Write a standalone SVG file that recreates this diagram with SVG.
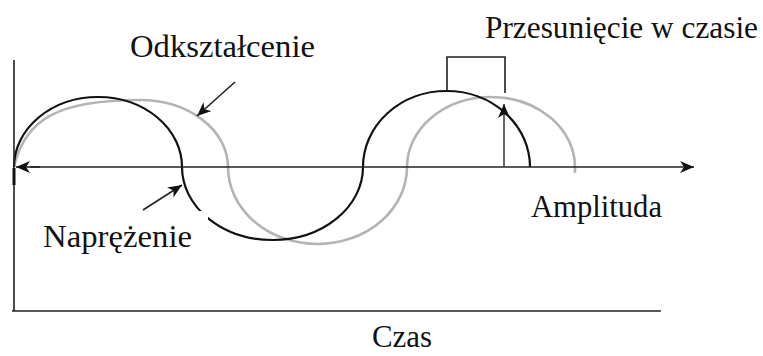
<svg xmlns="http://www.w3.org/2000/svg" width="763" height="356" viewBox="0 0 763 356">
  <style>
    .lbl { font-family: "Liberation Serif", "Times New Roman", serif; font-size: 32px; fill: #111; }
    .blk { fill: none; stroke: #111; stroke-width: 2.2; }
    .gry { fill: none; stroke: #b4b4b4; stroke-width: 2.6; }
    .ax { fill: none; stroke: #222; stroke-width: 1.6; }
    .ptr { fill: none; stroke: #222; stroke-width: 1.6; }
  </style>
  <defs>
    <marker id="ah" markerUnits="userSpaceOnUse" markerWidth="16" markerHeight="12" refX="14" refY="6" orient="auto">
      <path d="M0,0 L14,6 L0,12 L4,6 Z" fill="#111"/>
    </marker>
  </defs>
  <rect width="763" height="356" fill="#fff"/>

  <g id="curves">
    <path id="odksztalcenie-curve" class="gry" d="M14,167 C25,118 60,100 140,100 A88,67 0 0 1 228,167 A89.5,77 0 0 0 407,167 A84,70 0 0 1 575,167 L575,173"/>
    <path id="naprezenie-curve" class="blk" d="M14,167 A84,70 0 0 1 182,167 A90.5,73 0 0 0 363,167 A83.5,76 0 0 1 530,167"/>
  </g>

  <g id="axes">
    <line class="ax" x1="14" y1="60" x2="14" y2="311"/>
    <line class="ax" x1="12" y1="311" x2="661" y2="311"/>
    <line x1="14" y1="168" x2="14" y2="185" stroke="#111" stroke-width="3"/>
    <line class="ax" x1="30" y1="167" x2="694" y2="167" marker-end="url(#ah)"/>
    <line class="ax" x1="40" y1="167" x2="16" y2="167" marker-end="url(#ah)"/>
  </g>

  <rect id="label-mask" x="138" y="211" width="70" height="46" fill="#fff"/>

  <g id="connectors">
    <line class="ptr" x1="235" y1="82" x2="197" y2="116" marker-end="url(#ah)"/>
    <line class="ptr" x1="143" y1="210" x2="182" y2="185" marker-end="url(#ah)"/>
    <path class="ax" d="M447,91 L447,57 L505,57 L505,93"/>
    <line x1="504" y1="167" x2="504" y2="104" stroke="#555" stroke-width="1.8" marker-end="url(#ah)"/>
  </g>

  <g id="label-odksztalcenie"><text class="lbl" x="130" y="57" textLength="185" lengthAdjust="spacingAndGlyphs">Odkształcenie</text></g>
  <g id="label-przesuniecie"><text class="lbl" x="485" y="38" textLength="273" lengthAdjust="spacingAndGlyphs">Przesunięcie w czasie</text></g>
  <g id="label-naprezenie"><text class="lbl" x="43" y="247" textLength="149" lengthAdjust="spacingAndGlyphs">Naprężenie</text></g>
  <g id="label-amplituda"><text class="lbl" x="531" y="217" textLength="131" lengthAdjust="spacingAndGlyphs">Amplituda</text></g>
  <g id="label-czas"><text class="lbl" x="372" y="347" textLength="60" lengthAdjust="spacingAndGlyphs">Czas</text></g>
</svg>
